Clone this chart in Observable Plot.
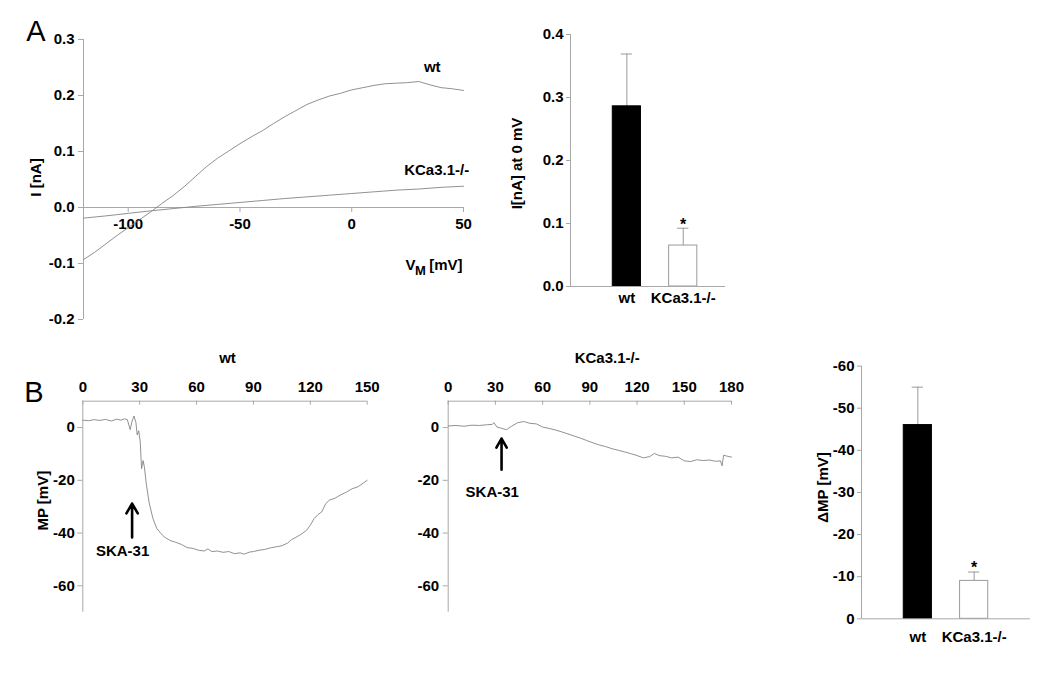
<!DOCTYPE html>
<html>
<head>
<meta charset="utf-8">
<script src="https://cdn.jsdelivr.net/npm/d3@7"></script>
<script src="https://cdn.jsdelivr.net/npm/@observablehq/plot@0.6"></script>
<style>
  html, body { margin: 0; padding: 0; background: #fff; }
  #root { position: relative; width: 1050px; height: 677px; background: #fff; overflow: hidden; }
  #root svg { position: absolute; }
</style>
</head>
<body>
<div id="root"></div>
<script>
// ---------------- DATA ----------------
// Panel A: current-voltage relation
const ivV   = [-120,-115,-110,-105,-100,-95,-90,-85,-80,-75,-70,-65,-60,-55,-50,-45,-40,-35,-30,-25,-20,-15,-10,-5,0,5,10,15,20,25,30,35,40,45,50];
const ivWt  = [-0.093,-0.080,-0.065,-0.050,-0.036,-0.022,-0.008,0.007,0.021,0.037,0.055,0.073,0.088,0.101,0.114,0.126,0.137,0.150,0.162,0.173,0.184,0.192,0.199,0.204,0.210,0.214,0.218,0.221,0.222,0.223,0.225,0.219,0.214,0.212,0.209];
const ivVK  = [-120,-110,-100,-90,-80,-70,-60,-50,-40,-30,-20,-10,0,10,20,30,40,50];
const ivKCa = [-0.019,-0.015,-0.0105,-0.006,-0.002,0.002,0.0055,0.009,0.0125,0.016,0.019,0.022,0.025,0.028,0.031,0.033,0.036,0.038];
const ivXDomain = [-120, 50];
const ivYDomain = [-0.2, 0.3];
const ivXTicks = [-100, -50, 0, 50];
const ivYTicks = [-0.2, -0.1, 0.0, 0.1, 0.2, 0.3];

// Panel A: bar chart, current at 0 mV
const groups  = ["wt", "KCa3.1-/-"];
const sigMark = ["", "*"];
const iMean   = [0.286, 0.065];
const iSem    = [0.083, 0.0275];
const iYTicks = [0.0, 0.1, 0.2, 0.3, 0.4];

// Panel B: membrane potential traces
const wtT  = [0,3,6,9,12,15,18,20,22,23.5,25,26,27,28,28.7,29.5,30.3,31,31.8,32.5,33.5,35,37,39,41,43,46,49,52,55,58,61,64,66,68,71,74,77,80,83,85,88,90,93,96,99,102,105,108,110,112,115,118,120,122,124,126,128,130,133,136,139,142,145,148,150];
const wtMP = [2.8,2.6,3.0,2.7,3.1,2.5,3.2,2.8,3.3,3.0,-0.8,2.5,4.4,2.0,-2.8,-1.2,-5.5,-15.6,-12.5,-15.0,-21.5,-28.5,-34.5,-38.2,-40.0,-41.5,-42.8,-43.5,-44.3,-45.5,-45.8,-46.5,-46.8,-46.0,-47.0,-46.8,-47.3,-47.0,-47.8,-47.5,-48.0,-47.2,-47.0,-46.5,-46.2,-45.6,-45.2,-44.8,-43.8,-42.5,-41.8,-40.5,-39.0,-37.0,-34.5,-33.0,-32.0,-29.0,-27.5,-26.8,-25.5,-24.5,-23.2,-22.5,-21.0,-20.0];
const koT  = [0,5,10,15,20,25,28,29,31,34,37,40,44,48,52,56,60,64,68,72,76,80,84,88,92,96,100,104,108,112,116,120,124,128,131,134,138,142,146,150,154,158,162,166,170,173,174,175,177,180];
const koMP = [0.6,0.8,0.5,0.9,0.8,1.1,1.2,1.9,0.2,-0.3,-0.8,0.4,1.8,2.3,1.6,1.4,0.2,-0.3,-0.9,-1.6,-2.4,-3.2,-4.0,-4.9,-5.8,-6.6,-7.2,-8.0,-8.6,-9.2,-9.9,-10.6,-11.5,-11.0,-9.8,-10.6,-10.9,-11.5,-11.2,-12.6,-12.9,-12.2,-12.5,-12.3,-12.8,-12.6,-14.5,-10.5,-10.8,-11.2];
const mpDomain  = [-70, 10];
const mpTicks   = [0, -20, -40, -60];
const wtXDomain = [0, 150];
const wtXTicks  = [0, 30, 60, 90, 120, 150];
const koXDomain = [0, 180];
const koXTicks  = [0, 30, 60, 90, 120, 150, 180];
const skaWt = {t: 26, from: -41.7, to: -28.8, labelT: 21, labelY: -46.7};
const skaKo = {t: 33.9, from: -16, to: -4.2, labelT: 28, labelY: -24.5};

// Panel B: bar chart, change of membrane potential
const dMean   = [-46, -9];
const dSem    = [-9, -2.1];
const dYTicks = [0, -10, -20, -30, -40, -50, -60];
const dYDomain = [0, -60];

// ---------------- STYLE ----------------
const FONT = "'Liberation Sans', Arial, Helvetica, sans-serif";
const AX = "#a8a8a8";     // axis lines
const TR = "#858585";     // traces
const EB = "#9a9a9a";     // error bars / open bar outline
const baseStyle = {fontFamily: FONT, fontSize: "15px", fontWeight: "bold", color: "#000", background: "transparent", overflow: "visible"};
const root = document.getElementById("root");
function place(svg, left, top) { svg.style.left = left + "px"; svg.style.top = top + "px"; root.append(svg); }

// ---------------- PANEL A: I-V ----------------
place(Plot.plot({
  width: 480, height: 340, marginLeft: 83, marginRight: 17, marginTop: 39, marginBottom: 21,
  style: baseStyle,
  x: {domain: ivXDomain, axis: null},
  y: {domain: ivYDomain},
  marks: [
    Plot.ruleY([0], {stroke: AX}),
    Plot.ruleX([ivXDomain[0]], {stroke: AX}),
    Plot.ruleX(ivXTicks, {x: d => d, y1: 0, y2: 0, insetBottom: -5, stroke: AX}),
    Plot.text(ivXTicks, {x: d => d, y: 0, dy: 17, text: d => String(d)}),
    Plot.axisY({ticks: ivYTicks, tickSize: 5, tickPadding: 4, stroke: AX, tickFormat: d => d.toFixed(1), label: null}),
    Plot.line(ivWt, {x: ivV, y: ivWt, stroke: TR, strokeWidth: 0.9}),
    Plot.line(ivKCa, {x: ivVK, y: ivKCa, stroke: TR, strokeWidth: 0.9}),
    Plot.text([groups[0]], {x: 36, y: 0.25, text: d => d}),
    Plot.text([groups[1]], {x: 38, y: 0.066, text: d => d}),
    Plot.text(["V"], {frameAnchor: "bottom-right", textAnchor: "end", lineAnchor: "middle", dx: -48, dy: -54, text: d => d}),
    Plot.text(["M"], {frameAnchor: "bottom-right", textAnchor: "middle", lineAnchor: "middle", dx: -43, dy: -49, fontSize: 13, text: d => d}),
    Plot.text(["[mV]"], {frameAnchor: "bottom-right", textAnchor: "end", lineAnchor: "middle", dx: -1, dy: -54, text: d => d}),
    Plot.text(["I [nA]"], {frameAnchor: "left", textAnchor: "middle", lineAnchor: "middle", rotate: -90, dx: -47, dy: -2, text: d => d}),
    Plot.text(["A"], {frameAnchor: "top-left", textAnchor: "middle", lineAnchor: "middle", dx: -47.5, dy: -8, fontSize: 29, fontWeight: "normal", text: d => d})
  ]
}), 0, 0);

// ---------------- PANEL A: bars ----------------
const rowsA = groups.map((g, i) => ({g, pos: i + 1, m: iMean[i], e: iSem[i], s: sigMark[i]}));
place(Plot.plot({
  width: 260, height: 320, marginLeft: 90, marginRight: 15, marginTop: 34, marginBottom: 34,
  style: baseStyle,
  x: {domain: [0, 2.75], axis: null},
  y: {domain: [0, 0.4]},
  marks: [
    Plot.ruleX(rowsA, {x: "pos", y1: "m", y2: d => d.m + d.e, stroke: EB}),
    Plot.ruleY(rowsA, {y: d => d.m + d.e, x1: d => d.pos - 0.1, x2: d => d.pos + 0.1, stroke: EB}),
    Plot.rectY(rowsA, {x1: d => d.pos - 0.25, x2: d => d.pos + 0.25, y: "m", fill: (d, i) => i === 0 ? "#000" : "#fff", stroke: (d, i) => i === 0 ? "#000" : EB}),
    Plot.ruleY([0], {stroke: AX}),
    Plot.ruleX([0], {stroke: AX}),
    Plot.axisY({ticks: iYTicks, tickSize: 4, tickPadding: 3, stroke: AX, tickFormat: d => d.toFixed(1), label: null}),
    Plot.text(rowsA, {x: "pos", y: 0, dy: 12, text: "g"}),
    Plot.text(rowsA.filter(d => d.s), {x: "pos", y: d => d.m + d.e, dy: -3, lineAnchor: "middle", fontSize: 16, text: "s"}),
    Plot.text(["I[nA] at 0 mV"], {frameAnchor: "left", textAnchor: "middle", lineAnchor: "middle", rotate: -90, dx: -53, dy: 3, text: d => d})
  ]
}), 480, 0);

// ---------------- PANEL B: traces ----------------
function tracePlot(opts) {
  return Plot.plot({
    width: opts.width, height: 290, marginLeft: opts.ml, marginRight: opts.mr, marginTop: 60.7, marginBottom: 18.3,
    style: baseStyle,
    x: {domain: opts.xDomain},
    y: {domain: mpDomain},
    marks: [
      Plot.ruleX([opts.xDomain[0]], {stroke: AX}),
      Plot.ruleY([mpDomain[1]], {stroke: AX}),
      Plot.ruleX(opts.xTicks, {x: d => d, y1: mpDomain[1], y2: mpDomain[1], insetBottom: -4, stroke: AX}),
      Plot.axisX({anchor: "top", ticks: opts.xTicks, tickSize: 0, tickPadding: 9, label: null}),
      Plot.axisY({ticks: mpTicks, tickSize: 5, tickPadding: opts.tp, stroke: AX, tickFormat: d => String(d), label: null}),
      Plot.line(opts.mp, {x: opts.t, y: opts.mp, stroke: TR, strokeWidth: 0.9}),
      Plot.arrow([opts.ska], {x1: "t", y1: "from", x2: "t", y2: "to", stroke: "#000", strokeWidth: 2.6, headLength: 13, headAngle: 60}),
      Plot.text([opts.ska], {x: "labelT", y: "labelY", text: () => "SKA-31"}),
      Plot.text([opts.title], {frameAnchor: "top", textAnchor: "middle", dx: opts.titleDx, dy: -42.7, lineAnchor: "middle", text: d => d}),
      ...opts.extra
    ]
  });
}
place(tracePlot({
  width: 380, ml: 82.3, mr: 13.3, xDomain: wtXDomain, xTicks: wtXTicks, t: wtT, mp: wtMP, ska: skaWt, title: groups[0], titleDx: 2.5, tp: 3,
  extra: [
    Plot.text(["MP [mV]"], {frameAnchor: "left", textAnchor: "middle", lineAnchor: "middle", rotate: -90, dx: -40, dy: -6, text: d => d}),
    Plot.text(["B"], {frameAnchor: "top-left", textAnchor: "middle", lineAnchor: "middle", dx: -49, dy: -8, fontSize: 29, fontWeight: "normal", text: d => d})
  ]
}), 0, 340);

place(tracePlot({
  width: 400, ml: 67.7, mr: 49, xDomain: koXDomain, xTicks: koXTicks, t: koT, mp: koMP, ska: skaKo, title: groups[1], titleDx: 17.3, tp: 4,
  extra: []
}), 380, 340);

// ---------------- PANEL B: bars ----------------
const rowsB = groups.map((g, i) => ({g, pos: i + 1, m: dMean[i], e: dSem[i], s: sigMark[i]}));
place(Plot.plot({
  width: 270, height: 310, marginLeft: 81, marginRight: 20, marginTop: 25.6, marginBottom: 31.7,
  style: baseStyle,
  x: {domain: [0, 3], axis: null},
  y: {domain: dYDomain},
  marks: [
    Plot.ruleX(rowsB, {x: "pos", y1: "m", y2: d => d.m + d.e, stroke: EB}),
    Plot.ruleY(rowsB, {y: d => d.m + d.e, x1: d => d.pos - 0.1, x2: d => d.pos + 0.1, stroke: EB}),
    Plot.rectY(rowsB, {x1: d => d.pos - 0.25, x2: d => d.pos + 0.25, y: "m", fill: (d, i) => i === 0 ? "#000" : "#fff", stroke: (d, i) => i === 0 ? "#000" : EB}),
    Plot.ruleY([0], {stroke: AX}),
    Plot.ruleX([0], {stroke: AX}),
    Plot.axisY({ticks: dYTicks, tickSize: 4, tickPadding: 3, stroke: AX, tickFormat: d => String(d), label: null}),
    Plot.text(rowsB, {x: "pos", y: 0, dy: 18, text: "g"}),
    Plot.text(rowsB.filter(d => d.s), {x: "pos", y: d => d.m + d.e, dy: -4, lineAnchor: "middle", fontSize: 16, text: "s"}),
    Plot.text(["ΔMP [mV]"], {frameAnchor: "left", textAnchor: "middle", lineAnchor: "middle", rotate: -90, dx: -38, dy: -5, text: d => d})
  ]
}), 780, 340);
</script>
</body>
</html>
